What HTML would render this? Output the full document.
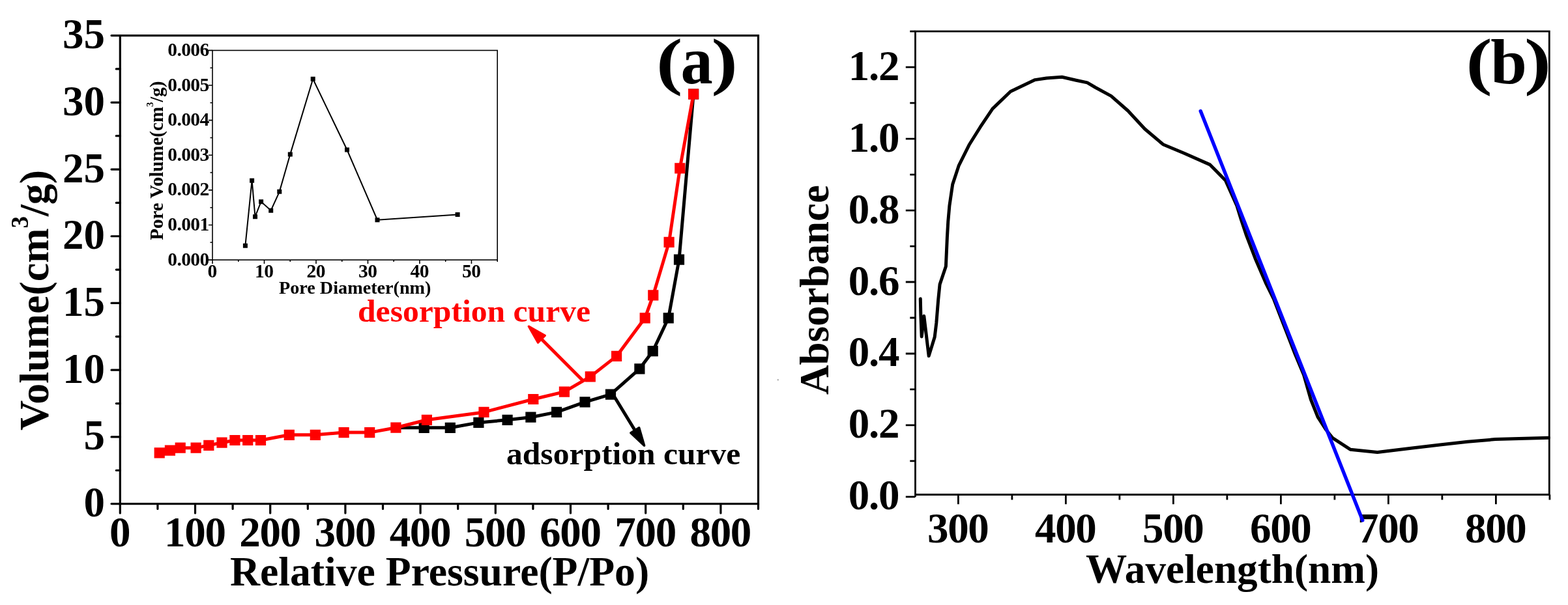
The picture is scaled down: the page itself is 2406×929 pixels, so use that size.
<!DOCTYPE html>
<html><head><meta charset="utf-8"><title>Figure</title>
<style>html,body{margin:0;padding:0;background:#fff;}svg{display:block;}</style>
</head><body>
<svg width="2406" height="929" viewBox="0 0 2406 929">
<rect width="2406" height="929" fill="#fff"/>
<rect x="184.3" y="54.6" width="979.2" height="719" fill="none" stroke="#000" stroke-width="3.2"/>
<path d="M171 773.6H184.3M171 670.89H184.3M171 568.17H184.3M171 465.46H184.3M171 362.74H184.3M171 260.03H184.3M171 157.31H184.3M171 54.6H184.3M178.3 722.24H184.3M178.3 619.53H184.3M178.3 516.81H184.3M178.3 414.1H184.3M178.3 311.39H184.3M178.3 208.67H184.3M178.3 105.96H184.3M184.3 773.6V788M299.5 773.6V788M414.7 773.6V788M529.9 773.6V788M645.1 773.6V788M760.3 773.6V788M875.5 773.6V788M990.7 773.6V788M1105.9 773.6V788M241.9 773.6V781.5M357.1 773.6V781.5M472.3 773.6V781.5M587.5 773.6V781.5M702.7 773.6V781.5M817.9 773.6V781.5M933.1 773.6V781.5M1048.3 773.6V781.5M1163.5 773.6V781.5" stroke="#000" stroke-width="3.2" stroke-linecap="round" fill="none"/>
<g font-family="Liberation Serif, Times New Roman, serif" font-weight="bold" font-size="65" text-anchor="end">
<text x="161" y="793.1">0</text>
<text x="161" y="690.39">5</text>
<text x="161" y="587.67">10</text>
<text x="161" y="484.96">15</text>
<text x="161" y="382.24">20</text>
<text x="161" y="279.53">25</text>
<text x="161" y="176.81">30</text>
<text x="161" y="74.1">35</text>
</g>
<g font-family="Liberation Serif, Times New Roman, serif" font-weight="bold" font-size="65" text-anchor="middle" letter-spacing="-1.3">
<text x="183.65" y="838.5">0</text>
<text x="298.85" y="838.5">100</text>
<text x="414.05" y="838.5">200</text>
<text x="529.25" y="838.5">300</text>
<text x="644.45" y="838.5">400</text>
<text x="759.65" y="838.5">500</text>
<text x="874.85" y="838.5">600</text>
<text x="990.05" y="838.5">700</text>
<text x="1105.25" y="838.5">800</text>
</g>
<text font-family="Liberation Serif, Times New Roman, serif" font-weight="bold" font-size="63.7" x="353" y="898.5">Relative Pressure(P/Po)</text>
<text font-family="Liberation Serif, Times New Roman, serif" font-weight="bold" font-size="64" transform="translate(73.5 661) rotate(-90)">Volume(cm<tspan font-size="37" dy="-30.4">3</tspan><tspan dy="30.4">/g)</tspan></text>
<text font-family="Liberation Serif, Times New Roman, serif" font-weight="bold" font-size="97.5" transform="translate(1007 126.6) scale(1.242 1)">(</text>
<text font-family="Liberation Serif, Times New Roman, serif" font-weight="bold" font-size="104.2" transform="translate(1044.5 128.1) scale(0.945 1)">a</text>
<text font-family="Liberation Serif, Times New Roman, serif" font-weight="bold" font-size="97.5" transform="translate(1091.5 126.6) scale(1.242 1)">)</text>
<polyline points="607.4,656.7 650.7,656.8 690.8,656.8 734.4,648.9 778.6,644.8 814.4,640.7 854.1,632.9 897.5,617.3 937,605.6 981.4,566.3 1001.7,539.2 1025.7,488.3 1042,398.6 1064.1,144.5" fill="none" stroke="#000" stroke-width="5" stroke-linejoin="round"/>
<path d="M642.6 648.7h16.2v16.2h-16.2zM682.7 648.7h16.2v16.2h-16.2zM726.3 640.8h16.2v16.2h-16.2zM770.5 636.7h16.2v16.2h-16.2zM806.3 632.6h16.2v16.2h-16.2zM846 624.8h16.2v16.2h-16.2zM889.4 609.2h16.2v16.2h-16.2zM928.9 597.5h16.2v16.2h-16.2zM973.3 558.2h16.2v16.2h-16.2zM993.6 531.1h16.2v16.2h-16.2zM1017.6 480.2h16.2v16.2h-16.2zM1033.9 390.5h16.2v16.2h-16.2zM1056 136.4h16.2v16.2h-16.2z" fill="#000"/>
<polyline points="244.7,695.4 260.9,691.6 276.7,687.7 300.6,687.7 320.3,683.9 340.5,679.7 360.4,676 380.2,676 400,676 443.8,667.8 483.8,667.8 527.6,664.1 567.2,664.1 607.4,656.7 654.9,644.8 742.5,632.9 818.3,613 865.9,601.6 905.8,578.4 946.1,546.9 989.7,488.3 1002.3,453.4 1026.6,371.9 1043.3,258.4 1064.1,144.5" fill="none" stroke="#f00" stroke-width="5" stroke-linejoin="round"/>
<path d="M236.6 687.3h16.2v16.2h-16.2zM252.8 683.5h16.2v16.2h-16.2zM268.6 679.6h16.2v16.2h-16.2zM292.5 679.6h16.2v16.2h-16.2zM312.2 675.8h16.2v16.2h-16.2zM332.4 671.6h16.2v16.2h-16.2zM352.3 667.9h16.2v16.2h-16.2zM372.1 667.9h16.2v16.2h-16.2zM391.9 667.9h16.2v16.2h-16.2zM435.7 659.7h16.2v16.2h-16.2zM475.7 659.7h16.2v16.2h-16.2zM519.5 656h16.2v16.2h-16.2zM559.1 656h16.2v16.2h-16.2zM599.3 648.6h16.2v16.2h-16.2zM646.8 636.7h16.2v16.2h-16.2zM734.4 624.8h16.2v16.2h-16.2zM810.2 604.9h16.2v16.2h-16.2zM857.8 593.5h16.2v16.2h-16.2zM897.7 570.3h16.2v16.2h-16.2zM938 538.8h16.2v16.2h-16.2zM981.6 480.2h16.2v16.2h-16.2zM994.2 445.3h16.2v16.2h-16.2zM1018.5 363.8h16.2v16.2h-16.2zM1035.2 250.3h16.2v16.2h-16.2zM1056 136.4h16.2v16.2h-16.2z" fill="#f00"/>
<line x1="894.2" y1="584.2" x2="829.4" y2="519.25" stroke="#f00" stroke-width="5"/><path d="M811.41 501.21L836.12 515.36L825.5 525.96Z" fill="#f00" stroke="#f00" stroke-width="3.5" stroke-linejoin="round"/>
<line x1="940.5" y1="605.5" x2="975.32" y2="662.43" stroke="#000" stroke-width="5"/><path d="M988.61 684.16L967.88 664.63L980.67 656.81Z" fill="#000" stroke="#000" stroke-width="3.5" stroke-linejoin="round"/>
<text font-family="Liberation Serif, Times New Roman, serif" font-weight="bold" font-size="48" fill="#f00" x="549" y="494" textLength="357.1" lengthAdjust="spacingAndGlyphs">desorption curve</text>
<text font-family="Liberation Serif, Times New Roman, serif" font-weight="bold" font-size="48" fill="#000" x="777" y="713" textLength="359.3" lengthAdjust="spacingAndGlyphs">adsorption curve</text>
<rect x="326" y="77.4" width="437.2" height="321.7" fill="none" stroke="#000" stroke-width="1.6"/>
<path d="M320 399.1H326M320 345.48H326M320 291.87H326M320 238.25H326M320 184.63H326M320 131.02H326M320 77.4H326M322.5 372.29H326M322.5 318.68H326M322.5 265.06H326M322.5 211.44H326M322.5 157.82H326M322.5 104.21H326M326 399.1V405.1M405.49 399.1V405.1M484.98 399.1V405.1M564.47 399.1V405.1M643.96 399.1V405.1M723.45 399.1V405.1M365.75 399.1V402.1M445.24 399.1V402.1M524.73 399.1V402.1M604.22 399.1V402.1M683.71 399.1V402.1M763.2 399.1V402.1" stroke="#000" stroke-width="1.6" fill="none"/>
<g font-family="Liberation Serif, Times New Roman, serif" font-weight="bold" font-size="29.5" text-anchor="end" letter-spacing="-0.6">
<text x="320.7" y="407.6">0.000</text>
<text x="320.7" y="353.98">0.001</text>
<text x="320.7" y="300.37">0.002</text>
<text x="320.7" y="246.75">0.003</text>
<text x="320.7" y="193.13">0.004</text>
<text x="320.7" y="139.52">0.005</text>
<text x="320.7" y="85.9">0.006</text>
</g>
<g font-family="Liberation Serif, Times New Roman, serif" font-weight="bold" font-size="29.5" text-anchor="middle" letter-spacing="-0.6">
<text x="325.7" y="425.8">0</text>
<text x="405.19" y="425.8">10</text>
<text x="484.68" y="425.8">20</text>
<text x="564.17" y="425.8">30</text>
<text x="643.66" y="425.8">40</text>
<text x="723.15" y="425.8">50</text>
</g>
<text font-family="Liberation Serif, Times New Roman, serif" font-weight="bold" font-size="28.2" x="428" y="450.8">Pore Diameter(nm)</text>
<text font-family="Liberation Serif, Times New Roman, serif" font-weight="bold" font-size="29" transform="translate(250.3 368.8) rotate(-90)">Pore Volume(cm<tspan font-size="14.5" dy="-15">3</tspan><tspan dy="15">/g)</tspan></text>
<polyline points="376.4,377.2 386.6,277.2 391.5,332.7 400.6,309.7 415.7,323.2 428.8,294.3 445.3,236.9 480.2,121.3 532.5,230 579,337.7 702.1,329.5" fill="none" stroke="#000" stroke-width="2"/>
<path d="M372.9 373.7h7v7h-7zM383.1 273.7h7v7h-7zM388 329.2h7v7h-7zM397.1 306.2h7v7h-7zM412.2 319.7h7v7h-7zM425.3 290.8h7v7h-7zM441.8 233.4h7v7h-7zM476.7 117.8h7v7h-7zM529 226.5h7v7h-7zM575.5 334.2h7v7h-7zM698.6 326h7v7h-7z" fill="#000"/>
<path d="M1404.5 763V48.2H2377.3V759.5H1404.5" fill="none" stroke="#000" stroke-width="2.8"/>
<path d="M1389.8 762.9H1404.5M1389.8 652.94H1404.5M1389.8 542.98H1404.5M1389.8 433.02H1404.5M1389.8 323.06H1404.5M1389.8 213.1H1404.5M1389.8 103.14H1404.5M1396.3 707.92H1404.5M1396.3 597.96H1404.5M1396.3 488H1404.5M1396.3 378.04H1404.5M1396.3 268.08H1404.5M1396.3 158.12H1404.5M1396.3 48.16H1404.5M1470.4 759.5V774.3M1635.4 759.5V774.3M1800.4 759.5V774.3M1965.4 759.5V774.3M2130.4 759.5V774.3M2295.4 759.5V774.3M1552.9 759.5V767.5M1717.9 759.5V767.5M1882.9 759.5V767.5M2047.9 759.5V767.5M2212.9 759.5V767.5M2377.9 759.5V767.5" stroke="#000" stroke-width="2.8" fill="none"/>
<g font-family="Liberation Serif, Times New Roman, serif" font-weight="bold" font-size="65" text-anchor="end" letter-spacing="-1.2">
<text x="1379.3" y="782.4">0.0</text>
<text x="1379.3" y="672.44">0.2</text>
<text x="1379.3" y="562.48">0.4</text>
<text x="1379.3" y="452.52">0.6</text>
<text x="1379.3" y="342.56">0.8</text>
<text x="1379.3" y="232.6">1.0</text>
<text x="1379.3" y="122.64">1.2</text>
</g>
<g font-family="Liberation Serif, Times New Roman, serif" font-weight="bold" font-size="65" text-anchor="middle" letter-spacing="-1.3">
<text x="1469.75" y="833">300</text>
<text x="1634.75" y="833">400</text>
<text x="1799.75" y="833">500</text>
<text x="1964.75" y="833">600</text>
<text x="2129.75" y="833">700</text>
<text x="2294.75" y="833">800</text>
</g>
<text font-family="Liberation Serif, Times New Roman, serif" font-weight="bold" font-size="63.3" x="1666" y="894.8">Wavelength(nm)</text>
<text font-family="Liberation Serif, Times New Roman, serif" font-weight="bold" font-size="63" transform="translate(1270.5 606) rotate(-90)">Absorbance</text>
<text font-family="Liberation Serif, Times New Roman, serif" font-weight="bold" font-size="97.3" transform="translate(2249.6 126.5) scale(1.24 1)">(</text>
<text font-family="Liberation Serif, Times New Roman, serif" font-weight="bold" font-size="98.3" transform="translate(2287.2 128.1) scale(1.018 1)">b</text>
<text font-family="Liberation Serif, Times New Roman, serif" font-weight="bold" font-size="97.3" transform="translate(2339.1 126.5) scale(1.264 1)">)</text>
<polyline points="1412.3,458.7 1412.9,485 1414.2,516.9 1417.8,485.2 1425.2,546.6 1434.2,517.5 1436.8,496 1439.7,460.3 1442.1,436.6 1451.4,409 1453.4,364.1 1454.8,340 1456.9,315.9 1461.7,283.1 1471.4,253.8 1486.9,222.8 1504.1,195.2 1523.1,166.9 1550.6,140.5 1588.2,122.6 1605.8,120 1629.5,118.3 1651.1,123.3 1668.3,126.9 1681.2,134.5 1704.9,147.4 1730.7,170 1756.6,198 1784.6,221.7 1816.9,235.2 1856.7,252.9 1880.4,277.1 1897.9,316.1 1904.6,337.7 1912.7,361.9 1926.1,396.9 1942.3,434.6 1954.8,460 1968.3,495 1987.1,543.5 2000.6,575.8 2011.4,613.5 2022.1,640.4 2034.2,659.2 2045,672.7 2071.9,690.2 2113.5,694.4 2167.2,688 2209.6,683.1 2252,678.2 2294.4,674.6 2376.3,672.2" fill="none" stroke="#000" stroke-width="5" stroke-linejoin="round" stroke-linecap="round"/>
<line x1="1842.2" y1="170.5" x2="2090.8" y2="799" stroke="#00f" stroke-width="5.4" stroke-linecap="round"/>
<rect x="1193" y="582" width="1.5" height="2.5" fill="#999"/>
</svg>
</body></html>
